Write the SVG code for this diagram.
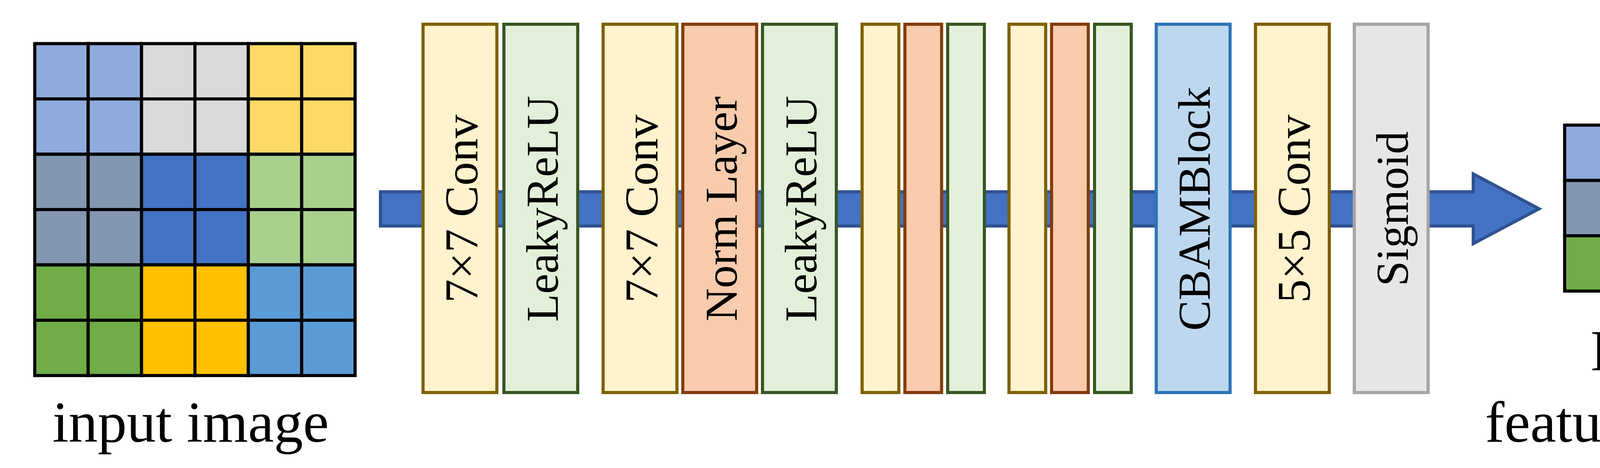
<svg xmlns="http://www.w3.org/2000/svg" width="4682" height="1197" viewBox="0 0 4682 1197">
<style>
  .cell { stroke: #000000; stroke-width: 8; }
  .box { stroke-width: 8; }
  .conv { fill: #FFF2CC; stroke: #7F6000; }
  .relu { fill: #E2F0D9; stroke: #385723; }
  .norm { fill: #F8CBAD; stroke: #843C0C; }
  .cbam { fill: #BDD7EE; stroke: #2E75B6; }
  .sig { fill: #E7E6E6; stroke: #A5A5A5; }
  .lbl { font-family: "Liberation Serif", "Times New Roman", serif; fill: #000000; text-anchor: middle; }
  .lc { font-size: 121px; }
  .lo { font-size: 117px; }
  .cap { font-family: "Liberation Serif", "Times New Roman", serif; fill: #000000; text-anchor: middle; font-size: 149px; }
  .c1 { fill: #8FAADC; } .c2 { fill: #D9D9D9; } .c3 { fill: #FFD966; }
  .c4 { fill: #8497B0; } .c5 { fill: #4472C4; } .c6 { fill: #A9D18E; }
  .c7 { fill: #70AD47; } .c8 { fill: #FFC000; } .c9 { fill: #5B9BD5; }
</style>

<g id="connectors">
  <path id="main-arrow" d="M974,490.5 L3771.5,490.5 L3771.5,445 L3940,534 L3771.5,623 L3771.5,578 L974,578 Z" fill="#4472C4" stroke="#2F528F" stroke-width="8" stroke-linejoin="miter"/>
</g>

<g id="input-image">
  <g class="cell">
    <rect class="c1" x="89" y="111.5" width="136.67" height="141.5"/>
    <rect class="c1" x="225.67" y="111.5" width="136.67" height="141.5"/>
    <rect class="c2" x="362.33" y="111.5" width="136.67" height="141.5"/>
    <rect class="c2" x="499" y="111.5" width="136.67" height="141.5"/>
    <rect class="c3" x="635.67" y="111.5" width="136.67" height="141.5"/>
    <rect class="c3" x="772.33" y="111.5" width="136.67" height="141.5"/>

    <rect class="c1" x="89" y="253" width="136.67" height="141.5"/>
    <rect class="c1" x="225.67" y="253" width="136.67" height="141.5"/>
    <rect class="c2" x="362.33" y="253" width="136.67" height="141.5"/>
    <rect class="c2" x="499" y="253" width="136.67" height="141.5"/>
    <rect class="c3" x="635.67" y="253" width="136.67" height="141.5"/>
    <rect class="c3" x="772.33" y="253" width="136.67" height="141.5"/>

    <rect class="c4" x="89" y="394.5" width="136.67" height="141.5"/>
    <rect class="c4" x="225.67" y="394.5" width="136.67" height="141.5"/>
    <rect class="c5" x="362.33" y="394.5" width="136.67" height="141.5"/>
    <rect class="c5" x="499" y="394.5" width="136.67" height="141.5"/>
    <rect class="c6" x="635.67" y="394.5" width="136.67" height="141.5"/>
    <rect class="c6" x="772.33" y="394.5" width="136.67" height="141.5"/>

    <rect class="c4" x="89" y="536" width="136.67" height="141.5"/>
    <rect class="c4" x="225.67" y="536" width="136.67" height="141.5"/>
    <rect class="c5" x="362.33" y="536" width="136.67" height="141.5"/>
    <rect class="c5" x="499" y="536" width="136.67" height="141.5"/>
    <rect class="c6" x="635.67" y="536" width="136.67" height="141.5"/>
    <rect class="c6" x="772.33" y="536" width="136.67" height="141.5"/>

    <rect class="c7" x="89" y="677.5" width="136.67" height="141.5"/>
    <rect class="c7" x="225.67" y="677.5" width="136.67" height="141.5"/>
    <rect class="c8" x="362.33" y="677.5" width="136.67" height="141.5"/>
    <rect class="c8" x="499" y="677.5" width="136.67" height="141.5"/>
    <rect class="c9" x="635.67" y="677.5" width="136.67" height="141.5"/>
    <rect class="c9" x="772.33" y="677.5" width="136.67" height="141.5"/>

    <rect class="c7" x="89" y="819" width="136.67" height="141.5"/>
    <rect class="c7" x="225.67" y="819" width="136.67" height="141.5"/>
    <rect class="c8" x="362.33" y="819" width="136.67" height="141.5"/>
    <rect class="c8" x="499" y="819" width="136.67" height="141.5"/>
    <rect class="c9" x="635.67" y="819" width="136.67" height="141.5"/>
    <rect class="c9" x="772.33" y="819" width="136.67" height="141.5"/>
  </g>
  <text class="cap" x="488" y="1130">input image</text>
</g>

<g id="conv1">
  <rect class="box conv" x="1083" y="62" width="189" height="942"/>
  <text class="lbl lc" transform="translate(1222,534) rotate(-90)">7×7 Conv</text>
</g>
<g id="relu1">
  <rect class="box relu" x="1290" y="62" width="189" height="942"/>
  <text class="lbl lo" transform="translate(1428,534) rotate(-90)">LeakyReLU</text>
</g>
<g id="conv2">
  <rect class="box conv" x="1544" y="62" width="189" height="942"/>
  <text class="lbl lc" transform="translate(1683,534) rotate(-90)">7×7 Conv</text>
</g>
<g id="norm2">
  <rect class="box norm" x="1748" y="62" width="189" height="942"/>
  <text class="lbl lo" transform="translate(1886,534) rotate(-90)">Norm Layer</text>
</g>
<g id="relu2">
  <rect class="box relu" x="1952" y="62" width="189" height="942"/>
  <text class="lbl lo" transform="translate(2090,534) rotate(-90)">LeakyReLU</text>
</g>

<g id="conv3">
  <rect class="box conv" x="2207" y="62" width="94" height="942"/>
</g>
<g id="norm3">
  <rect class="box norm" x="2316.5" y="62" width="94" height="942"/>
</g>
<g id="relu3">
  <rect class="box relu" x="2426" y="62" width="94" height="942"/>
</g>

<g id="conv4">
  <rect class="box conv" x="2583" y="62" width="94" height="942"/>
</g>
<g id="norm4">
  <rect class="box norm" x="2692" y="62" width="94" height="942"/>
</g>
<g id="relu4">
  <rect class="box relu" x="2802" y="62" width="94" height="942"/>
</g>

<g id="cbam">
  <rect class="box cbam" x="2960" y="62" width="189" height="942"/>
  <text class="lbl lo" transform="translate(3097,534) rotate(-90)">CBAMBlock</text>
</g>
<g id="conv5">
  <rect class="box conv" x="3214" y="62" width="189" height="942"/>
  <text class="lbl lc" transform="translate(3353,534) rotate(-90)">5×5 Conv</text>
</g>
<g id="sigmoid">
  <rect class="box sig" x="3467" y="62" width="189" height="942"/>
  <text class="lbl lo" transform="translate(3604,534) rotate(-90)">Sigmoid</text>
</g>

<g id="feature-matrix">
  <g class="cell">
    <rect class="c1" x="4005.5" y="320" width="136.67" height="141.5"/>
    <rect class="c2" x="4142.17" y="320" width="136.67" height="141.5"/>
    <rect class="c3" x="4278.83" y="320" width="136.67" height="141.5"/>
    <rect class="c4" x="4005.5" y="461.5" width="136.67" height="141.5"/>
    <rect class="c5" x="4142.17" y="461.5" width="136.67" height="141.5"/>
    <rect class="c6" x="4278.83" y="461.5" width="136.67" height="141.5"/>
    <rect class="c7" x="4005.5" y="603" width="136.67" height="141.5"/>
    <rect class="c8" x="4142.17" y="603" width="136.67" height="141.5"/>
    <rect class="c9" x="4278.83" y="603" width="136.67" height="141.5"/>
  </g>
  <text class="cap" x="4221.5" y="946.5">N×N</text>
  <text class="cap" x="4221.5" y="1130">feature matrix</text>
</g>
</svg>
